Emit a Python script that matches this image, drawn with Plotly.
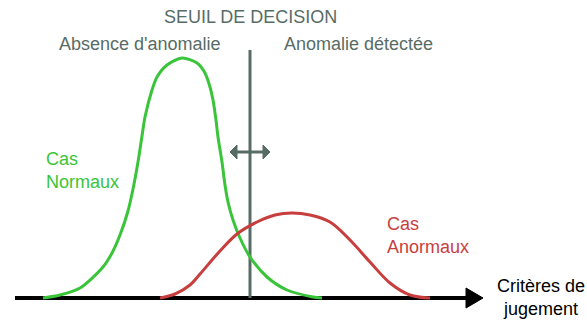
import plotly.graph_objects as go

# Distribution of the judgement criterion for normal cases (green)
normal_x = [43, 60, 80, 103, 112, 120, 128, 133, 138, 142, 145, 152, 157, 167, 182, 197, 205,
            210, 213, 216, 218, 222, 225, 228, 233, 240, 250, 267, 287, 313, 322]
normal_y = [0, 3, 10, 31, 45, 63, 87, 109, 136, 162, 181, 208, 221, 233, 240, 235, 225,
            211, 198, 178, 161, 136, 113, 96, 78, 60, 41, 21, 8, 1, 0]

# Distribution of the judgement criterion for abnormal cases (red)
abnormal_x = [160, 175, 190, 200, 220, 237, 257, 275, 292, 310, 330, 350, 370, 390, 410, 430]
abnormal_y = [0, 4, 13, 24, 47, 64, 76, 83, 85, 83, 76, 58, 36, 15, 3, 0]

threshold = 250

GREEN = "rgb(58,196,58)"
RED = "rgb(200,62,62)"
GRAY = "rgb(88,108,103)"
FONT = "Liberation Sans, Arial, sans-serif"

fig = go.Figure()
fig.add_trace(go.Scatter(x=normal_x, y=normal_y, mode="lines",
                         line=dict(color=GREEN, width=3, shape="spline", smoothing=0.8),
                         hoverinfo="skip"))
fig.add_trace(go.Scatter(x=abnormal_x, y=abnormal_y, mode="lines",
                         line=dict(color=RED, width=3, shape="spline", smoothing=1.0),
                         hoverinfo="skip"))

shapes = [
    # criterion axis with arrow
    dict(type="line", x0=15, x1=470, y0=0, y1=0, line=dict(color="black", width=4)),
    dict(type="path", path="M 466 10 L 483 0 L 466 -10 Z", fillcolor="black",
         line=dict(color="black", width=1)),
    # decision threshold
    dict(type="line", x0=threshold, x1=threshold, y0=0, y1=248, line=dict(color=GRAY, width=3)),
    # movable threshold double arrow
    dict(type="line", x0=235, x1=265, y0=146, y1=146, line=dict(color=GRAY, width=3)),
    dict(type="path", path="M 237 153 L 230 146 L 237 139 Z", fillcolor=GRAY,
         line=dict(color=GRAY, width=1)),
    dict(type="path", path="M 263 153 L 270 146 L 263 139 Z", fillcolor=GRAY,
         line=dict(color=GRAY, width=1)),
]
for s in shapes:
    s.update(xref="x", yref="y", layer="above" if s["type"] == "path" else "below")

def label(text, x, y, color, xanchor="center", align="center"):
    return dict(text=text, x=x, y=y, xref="x", yref="y", showarrow=False,
                xanchor=xanchor, yanchor="middle", align=align,
                font=dict(family=FONT, size=18, color=color))

annotations = [
    label("SEUIL DE DECISION", 250, 281, GRAY),
    label("Absence d'anomalie", 140, 254, GRAY),
    label("Anomalie détectée", 358, 254, GRAY),
    label("Cas<br>Normaux", 44, 128, GREEN, xanchor="left", align="left"),
    label("Cas<br>Anormaux", 385, 63, RED, xanchor="left", align="left"),
    label("Critères de<br>jugement", 541, 1, "black"),
]

fig.update_layout(
    width=587, height=325,
    margin=dict(l=0, r=0, t=0, b=0),
    paper_bgcolor="white", plot_bgcolor="white",
    showlegend=False,
    shapes=shapes,
    annotations=annotations,
    xaxis=dict(range=[0, 587], visible=False, fixedrange=True),
    yaxis=dict(range=[-27, 298], visible=False, fixedrange=True),
)

fig.write_html("out.html", config={"displayModeBar": False})
